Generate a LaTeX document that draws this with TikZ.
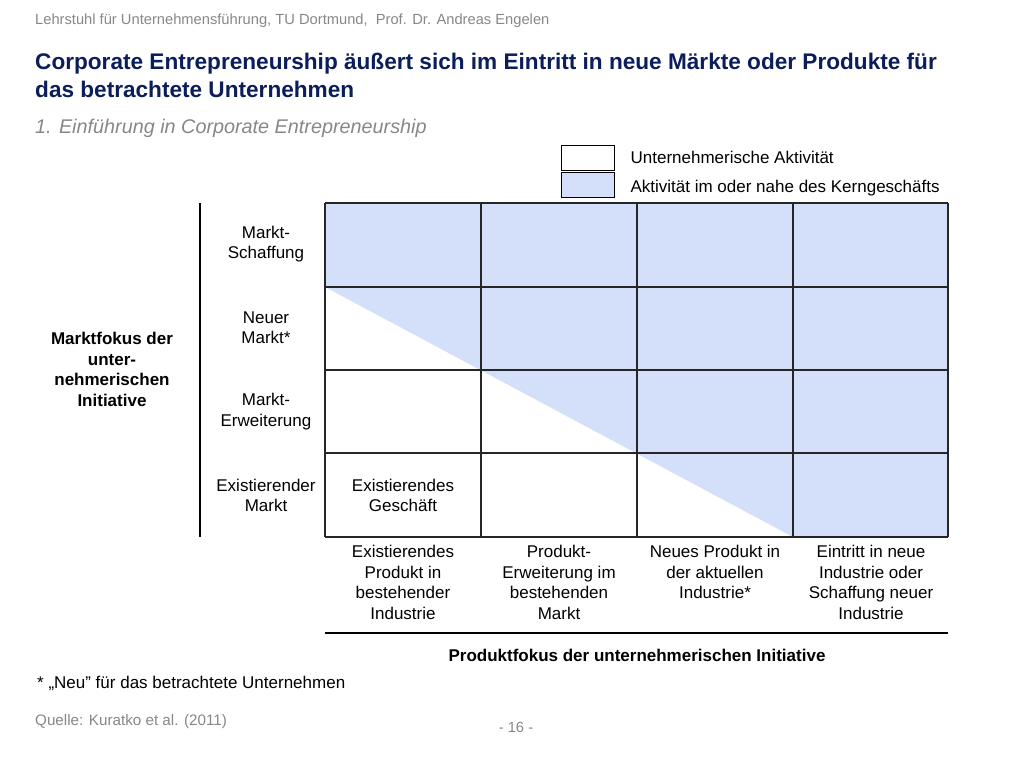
\documentclass[tikz,border=0pt]{standalone}
\usepackage{fontspec}
\setmainfont{Liberation Sans}
\usetikzlibrary{positioning}

\definecolor{kernblau}{RGB}{212,223,250}
\definecolor{titelblau}{RGB}{12,30,90}
\definecolor{grautext}{RGB}{135,135,135}

\tikzset{
	kopf/.style={inner sep=0pt, text=grautext, font=\fontsize{14.7}{17}\selectfont},
	titel/.style={inner sep=0pt, text=titelblau, font=\bfseries\fontsize{22.6}{26}\selectfont},
	untertitel/.style={inner sep=0pt, text=grautext, font=\itshape\fontsize{19.8}{23}\selectfont},
	lbl/.style={align=center, inner sep=0pt, font=\fontsize{17}{20.5}\selectfont},
	fettlbl/.style={lbl, font=\bfseries\fontsize{17}{20.5}\selectfont},
	legbox/.style={draw, line width=0.8pt, minimum width=53pt, minimum height=25pt, inner sep=0pt},
	gitter/.style={line width=1.3pt, black!85}
}

\begin{document}
\begin{tikzpicture}[x=1pt,y=-1pt]
	\useasboundingbox (0,0) rectangle (1024,768);

	\node[kopf, anchor=base west] (kopf) at (35,25) {Lehrstuhl für Unternehmensführung, TU Dortmund,\ \ Prof. Dr. Andreas Engelen};
	\node[titel, anchor=base west] (titel1) at (35,69) {Corporate Entrepreneurship äußert sich im Eintritt in neue Märkte oder Produkte für};
	\node[titel, anchor=base west] (titel2) at (35,97) {das betrachtete Unternehmen};
	\node[untertitel, anchor=base west] (untertitel) at (35,133.5) {1. Einführung in Corporate Entrepreneurship};

	% Legende
	\node[legbox, fill=white] (leg1) at (587.5,157.5) {};
	\node[legbox, fill=kernblau] (leg2) at (587.5,185) {};
	\node[lbl, anchor=west, right=16pt of leg1] (legtext1) {Unternehmerische Aktivität};
	\node[lbl, anchor=west, right=16pt of leg2, yshift=-3pt] (legtext2) {Aktivität im oder nahe des Kerngeschäfts};

	% Matrix
	\fill[kernblau] (325,203) -- (948,203) -- (948,537) -- (793,537) -- (325,287) -- cycle;
	\foreach \x in {325,481,637,793,948}
		\draw[gitter] (\x,203) -- (\x,537);
	\foreach \y in {203,287,370,453,537}
		\draw[gitter] (325,\y) -- (948,\y);

	\foreach \y/\txt [count=\i] in {244/{Markt-\\Schaffung}, 327.5/{Neuer\\Markt*}, 411.5/{Markt-\\Erweiterung}, 495.5/{Existierender\\Markt}}
		\node[lbl] (zeile\i) at (266,\y) {\txt};
	\node[lbl] (geschaeft) at (403,495.5) {Existierendes\\Geschäft};

	\foreach \x/\txt [count=\i] in {403/{Existierendes\\Produkt in\\bestehender\\Industrie}, 559/{Produkt-\\Erweiterung im\\bestehenden\\Markt}, 715/{Neues Produkt in\\der aktuellen\\Industrie*}, 871/{Eintritt in neue\\Industrie oder\\Schaffung neuer\\Industrie}}
		\node[lbl, anchor=north] (spalte\i) at (\x,545) {\txt};

	% Achsen
	\draw[line width=1.3pt] (200,203) -- (200,537);
	\node[fettlbl] (marktfokus) at (112,369.5) {Marktfokus der\\unter-\\nehmerischen\\Initiative};
	\draw[line width=1.5pt] (325,633) -- (948,633);
	\node[fettlbl] (produktfokus) at (637,655) {Produktfokus der unternehmerischen Initiative};

	% Fuss
	\node[lbl, anchor=base west] (fussnote) at (37,688) {* „Neu” für das betrachtete Unternehmen};
	\node[kopf, font=\fontsize{15.2}{18}\selectfont, anchor=base west] (quelle) at (35,725) {Quelle: Kuratko et al. (2011)};
	\node[kopf, anchor=base] (seite) at (516,732) {- 16 -};
\end{tikzpicture}
\end{document}
